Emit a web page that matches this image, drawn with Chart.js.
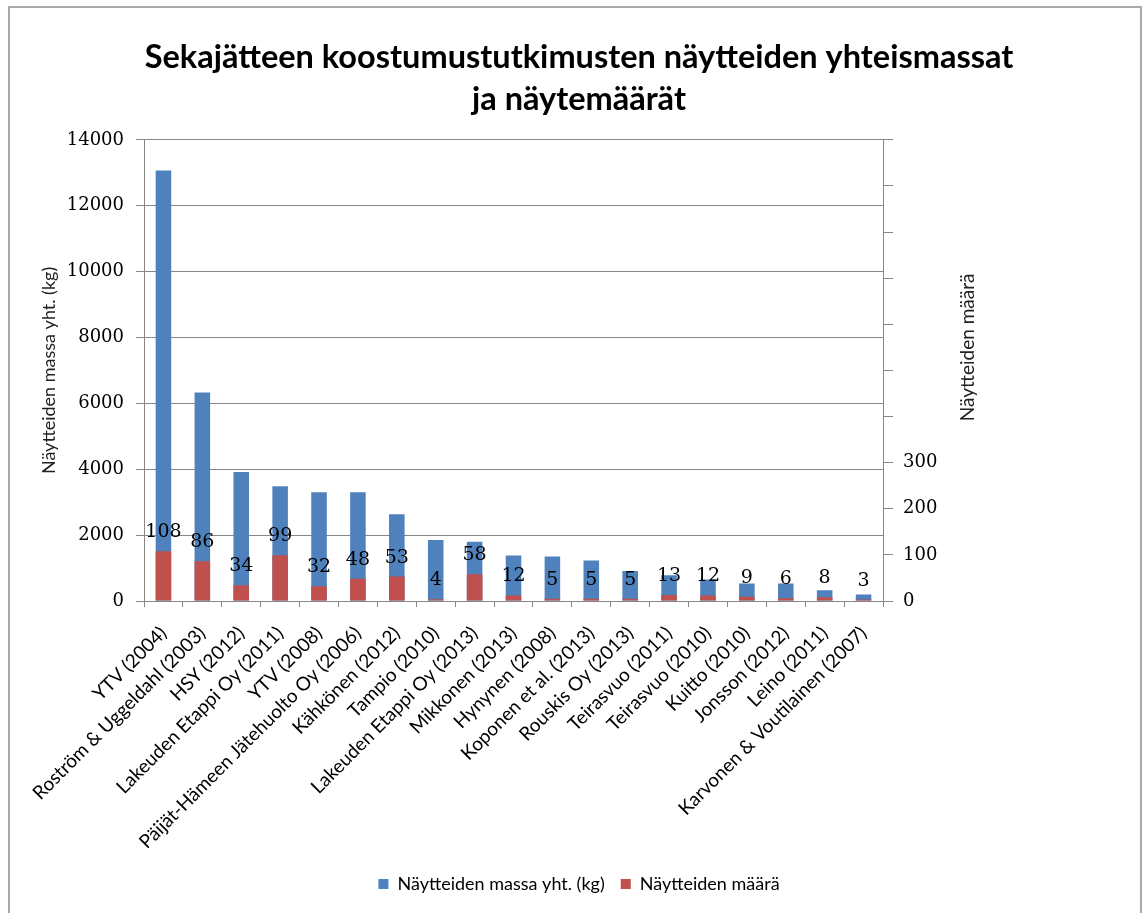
<!DOCTYPE html>
<html>
<head>
<meta charset="utf-8">
<script src="https://cdn.jsdelivr.net/npm/chart.js@4/dist/chart.umd.min.js"></script>
<style>
  html, body { margin: 0; padding: 0; background: #fff; }
  #frame { position: absolute; left: 8px; top: 6px; width: 1130px; height: 940px; border: 2px solid #a9a9a9; }
  #wrap { position: absolute; left: 0; top: 0; width: 1142px; height: 913px; }
</style>
</head>
<body>
<div id="frame"></div>
<div id="wrap"><canvas id="chart"></canvas></div>
<script>
// Tutkimukset (kategoriat)
const categories = [
  "YTV (2004)", "Roström & Uggeldahl (2003)", "HSY (2012)", "Lakeuden Etappi Oy (2011)",
  "YTV (2008)", "Päijät-Hämeen Jätehuolto Oy (2006)", "Kähkönen (2012)", "Tampio (2010)",
  "Lakeuden Etappi Oy (2013)", "Mikkonen (2013)", "Hynynen (2008)", "Koponen et al. (2013)",
  "Rouskis Oy (2013)", "Teirasvuo (2011)", "Teirasvuo (2010)", "Kuitto (2010)",
  "Jonsson (2012)", "Leino (2011)", "Karvonen & Voutilainen (2007)"
];
// Näytteiden massa yht. (kg)
const massValues = [13070, 6330, 3920, 3480, 3300, 3300, 2630, 1850, 1800, 1380, 1350, 1230, 910, 780, 650, 530, 530, 330, 200];
// Näytteiden määrä
const countValues = [108, 86, 34, 99, 32, 48, 53, 4, 58, 12, 5, 5, 5, 13, 12, 9, 6, 8, 3];
// Oikean akselin näkyvät tikit
const rightTickLabels = [0, 100, 200, 300];

const blue = "#4F81BD";
const red = "#C0504D";
const gridColor = "#868686";

// Arvot punaisten pylväiden päälle
const countLabels = {
  id: "countLabels",
  afterDatasetsDraw(chart) {
    const meta = chart.getDatasetMeta(1);
    const ctx = chart.ctx;
    ctx.save();
    ctx.font = "19px 'DejaVu Serif'";
    ctx.fillStyle = "#000";
    ctx.textAlign = "center";
    ctx.textBaseline = "alphabetic";
    meta.data.forEach((bar, i) => {
      ctx.fillText(String(countValues[i]), bar.x, bar.y - 14);
    });
    ctx.restore();
  }
};

// Oikean akselin otsikko (luetaan alhaalta ylös)
const rightTitle = {
  id: "rightTitle",
  afterDraw(chart) {
    const s = chart.scales.y1;
    const ctx = chart.ctx;
    ctx.save();
    ctx.translate(s.left + 85, (s.top + s.bottom) / 2 - 23);
    ctx.rotate(-Math.PI / 2);
    ctx.font = "19px Lato";
    ctx.fillStyle = "#222";
    ctx.textAlign = "center";
    ctx.textBaseline = "middle";
    ctx.fillText("Näytteiden määrä", 0, 0);
    ctx.restore();
  }
};

new Chart(document.getElementById("chart"), {
  type: "bar",
  data: {
    labels: categories,
    datasets: [
      {
        label: "Näytteiden massa yht. (kg)",
        data: massValues,
        backgroundColor: blue,
        yAxisID: "y",
        grouped: false,
        order: 1,
        barPercentage: 0.4,
        categoryPercentage: 1.0
      },
      {
        label: "Näytteiden määrä",
        data: countValues,
        backgroundColor: red,
        yAxisID: "y1",
        grouped: false,
        order: 0,
        barPercentage: 0.4,
        categoryPercentage: 1.0
      }
    ]
  },
  options: {
    responsive: true,
    maintainAspectRatio: false,
    animation: false,
    layout: { padding: { left: 16, right: 0, top: 0, bottom: 10 } },
    plugins: {
      title: {
        display: true,
        text: ["Sekajätteen koostumustutkimusten näytteiden yhteismassat", "ja näytemäärät"],
        font: { family: "Lato", size: 32.5, weight: "bold", lineHeight: 1.29 },
        color: "#000",
        padding: { top: 37, bottom: 19 }
      },
      legend: {
        position: "bottom",
        labels: {
          font: { family: "Lato", size: 18 },
          color: "#000",
          boxWidth: 10,
          boxHeight: 10,
          padding: 16,
          sort: (a, b) => a.datasetIndex - b.datasetIndex
        }
      },
      tooltip: { enabled: false }
    },
    scales: {
      x: {
        grid: { display: true, drawOnChartArea: false, color: gridColor, tickLength: 6, offset: true },
        border: { color: gridColor },
        ticks: {
          font: { family: "Lato", size: 19 },
          color: "#000",
          minRotation: 45,
          maxRotation: 45,
          autoSkip: false,
          padding: 15
        },
        afterFit(scale) { scale.height = 258; }
      },
      y: {
        position: "left",
        min: 0,
        max: 14000,
        ticks: {
          stepSize: 2000,
          font: { family: "DejaVu Serif", size: 18 },
          color: "#000",
          padding: 12,
          callback: (v) => String(v)
        },
        grid: { color: gridColor, tickLength: 8 },
        border: { color: gridColor },
        title: {
          display: true,
          text: "Näytteiden massa yht. (kg)",
          font: { family: "Lato", size: 18 },
          color: "#222",
          padding: { top: 22, bottom: 0 }
        },
        afterFit(scale) { scale.width = 128; }
      },
      y1: {
        position: "right",
        min: 0,
        max: 1000,
        ticks: {
          stepSize: 100,
          font: { family: "DejaVu Serif", size: 18 },
          color: "#000",
          padding: 10,
          callback: (v) => rightTickLabels.includes(v) ? String(v) : ""
        },
        grid: { drawOnChartArea: false, color: gridColor, tickLength: 10 },
        border: { color: gridColor },
        afterFit(scale) { scale.width = 259; }
      }
    }
  },
  plugins: [countLabels, rightTitle]
});
</script>
</body>
</html>
